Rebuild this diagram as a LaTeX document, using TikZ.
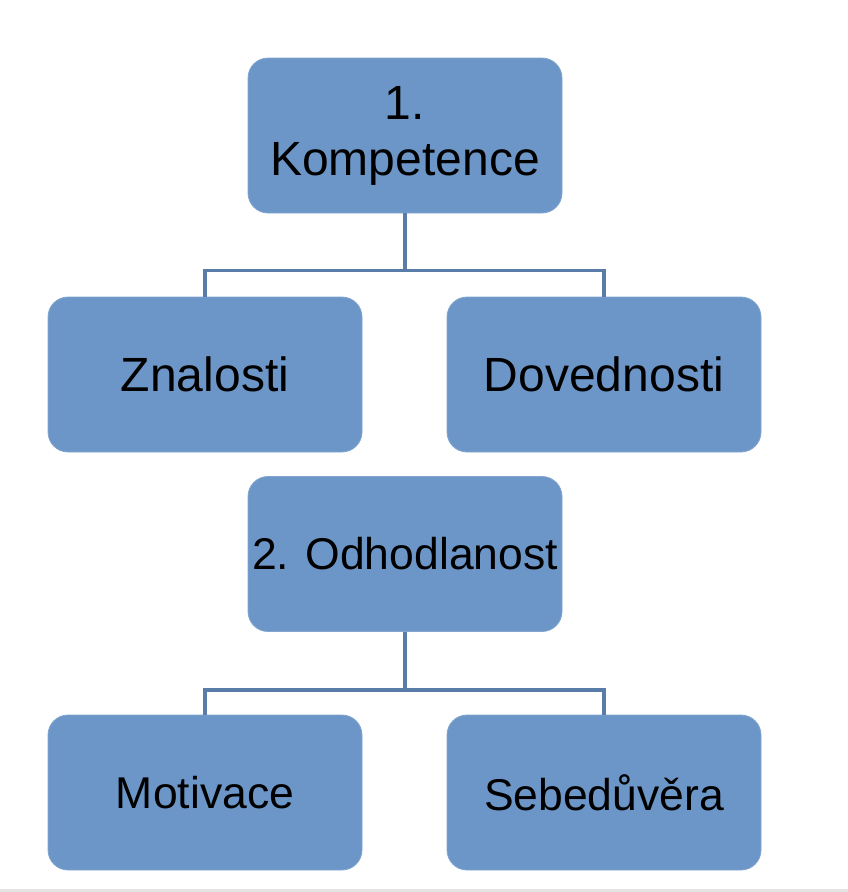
\documentclass[tikz,border=0pt]{standalone}
\usepackage{fontspec}
\setmainfont{Liberation Sans}
\usepackage{tikz}
\usetikzlibrary{positioning,calc}

\definecolor{boxblue}{HTML}{6C96C7}
\definecolor{lineblue}{HTML}{5A7CA8}
\definecolor{pagegray}{HTML}{E3E3E3}

\begin{document}
\begin{tikzpicture}[
            x=1pt, y=-1pt,
            box/.style={draw=boxblue!85!white, line width=0.8pt, rectangle, rounded corners=20pt, fill=boxblue, minimum width=314pt, minimum height=155pt, align=center, inner sep=0pt, font=\fontsize{48}{56}\selectfont},
            smalltext/.style={font=\fontsize{44.5}{52}\selectfont},
            conn/.style={draw=lineblue, line width=3.5pt}
        ]
            \useasboundingbox (0,0) rectangle (848,892);
            \fill[pagegray] (0,889) rectangle (848,892);

            \node[box] (kompetence) at (405,135.5) {1.\\Kompetence};
            \node[box] (znalosti) at (205,374.5) {Znalosti};
            \node[box] (dovednosti) at (604,374.5) {Dovednosti};
            \node[box, smalltext] (odhodlanost) at (405,554) {2. Odhodlanost};
            \node[box, smalltext] (motivace) at (205,792.5) {Motivace};
            \node[box, smalltext] (sebeduvera) at (604,792.5) {Sebedůvěra};

            \draw[conn] (kompetence.south) -- ++(0,57) -| (znalosti.north);
            \draw[conn] (kompetence.south) ++(0,57) -| (dovednosti.north);
            \draw[conn] (odhodlanost.south) -- ++(0,58) -| (motivace.north);
            \draw[conn] (odhodlanost.south) ++(0,58) -| (sebeduvera.north);
        \end{tikzpicture}
\end{document}
